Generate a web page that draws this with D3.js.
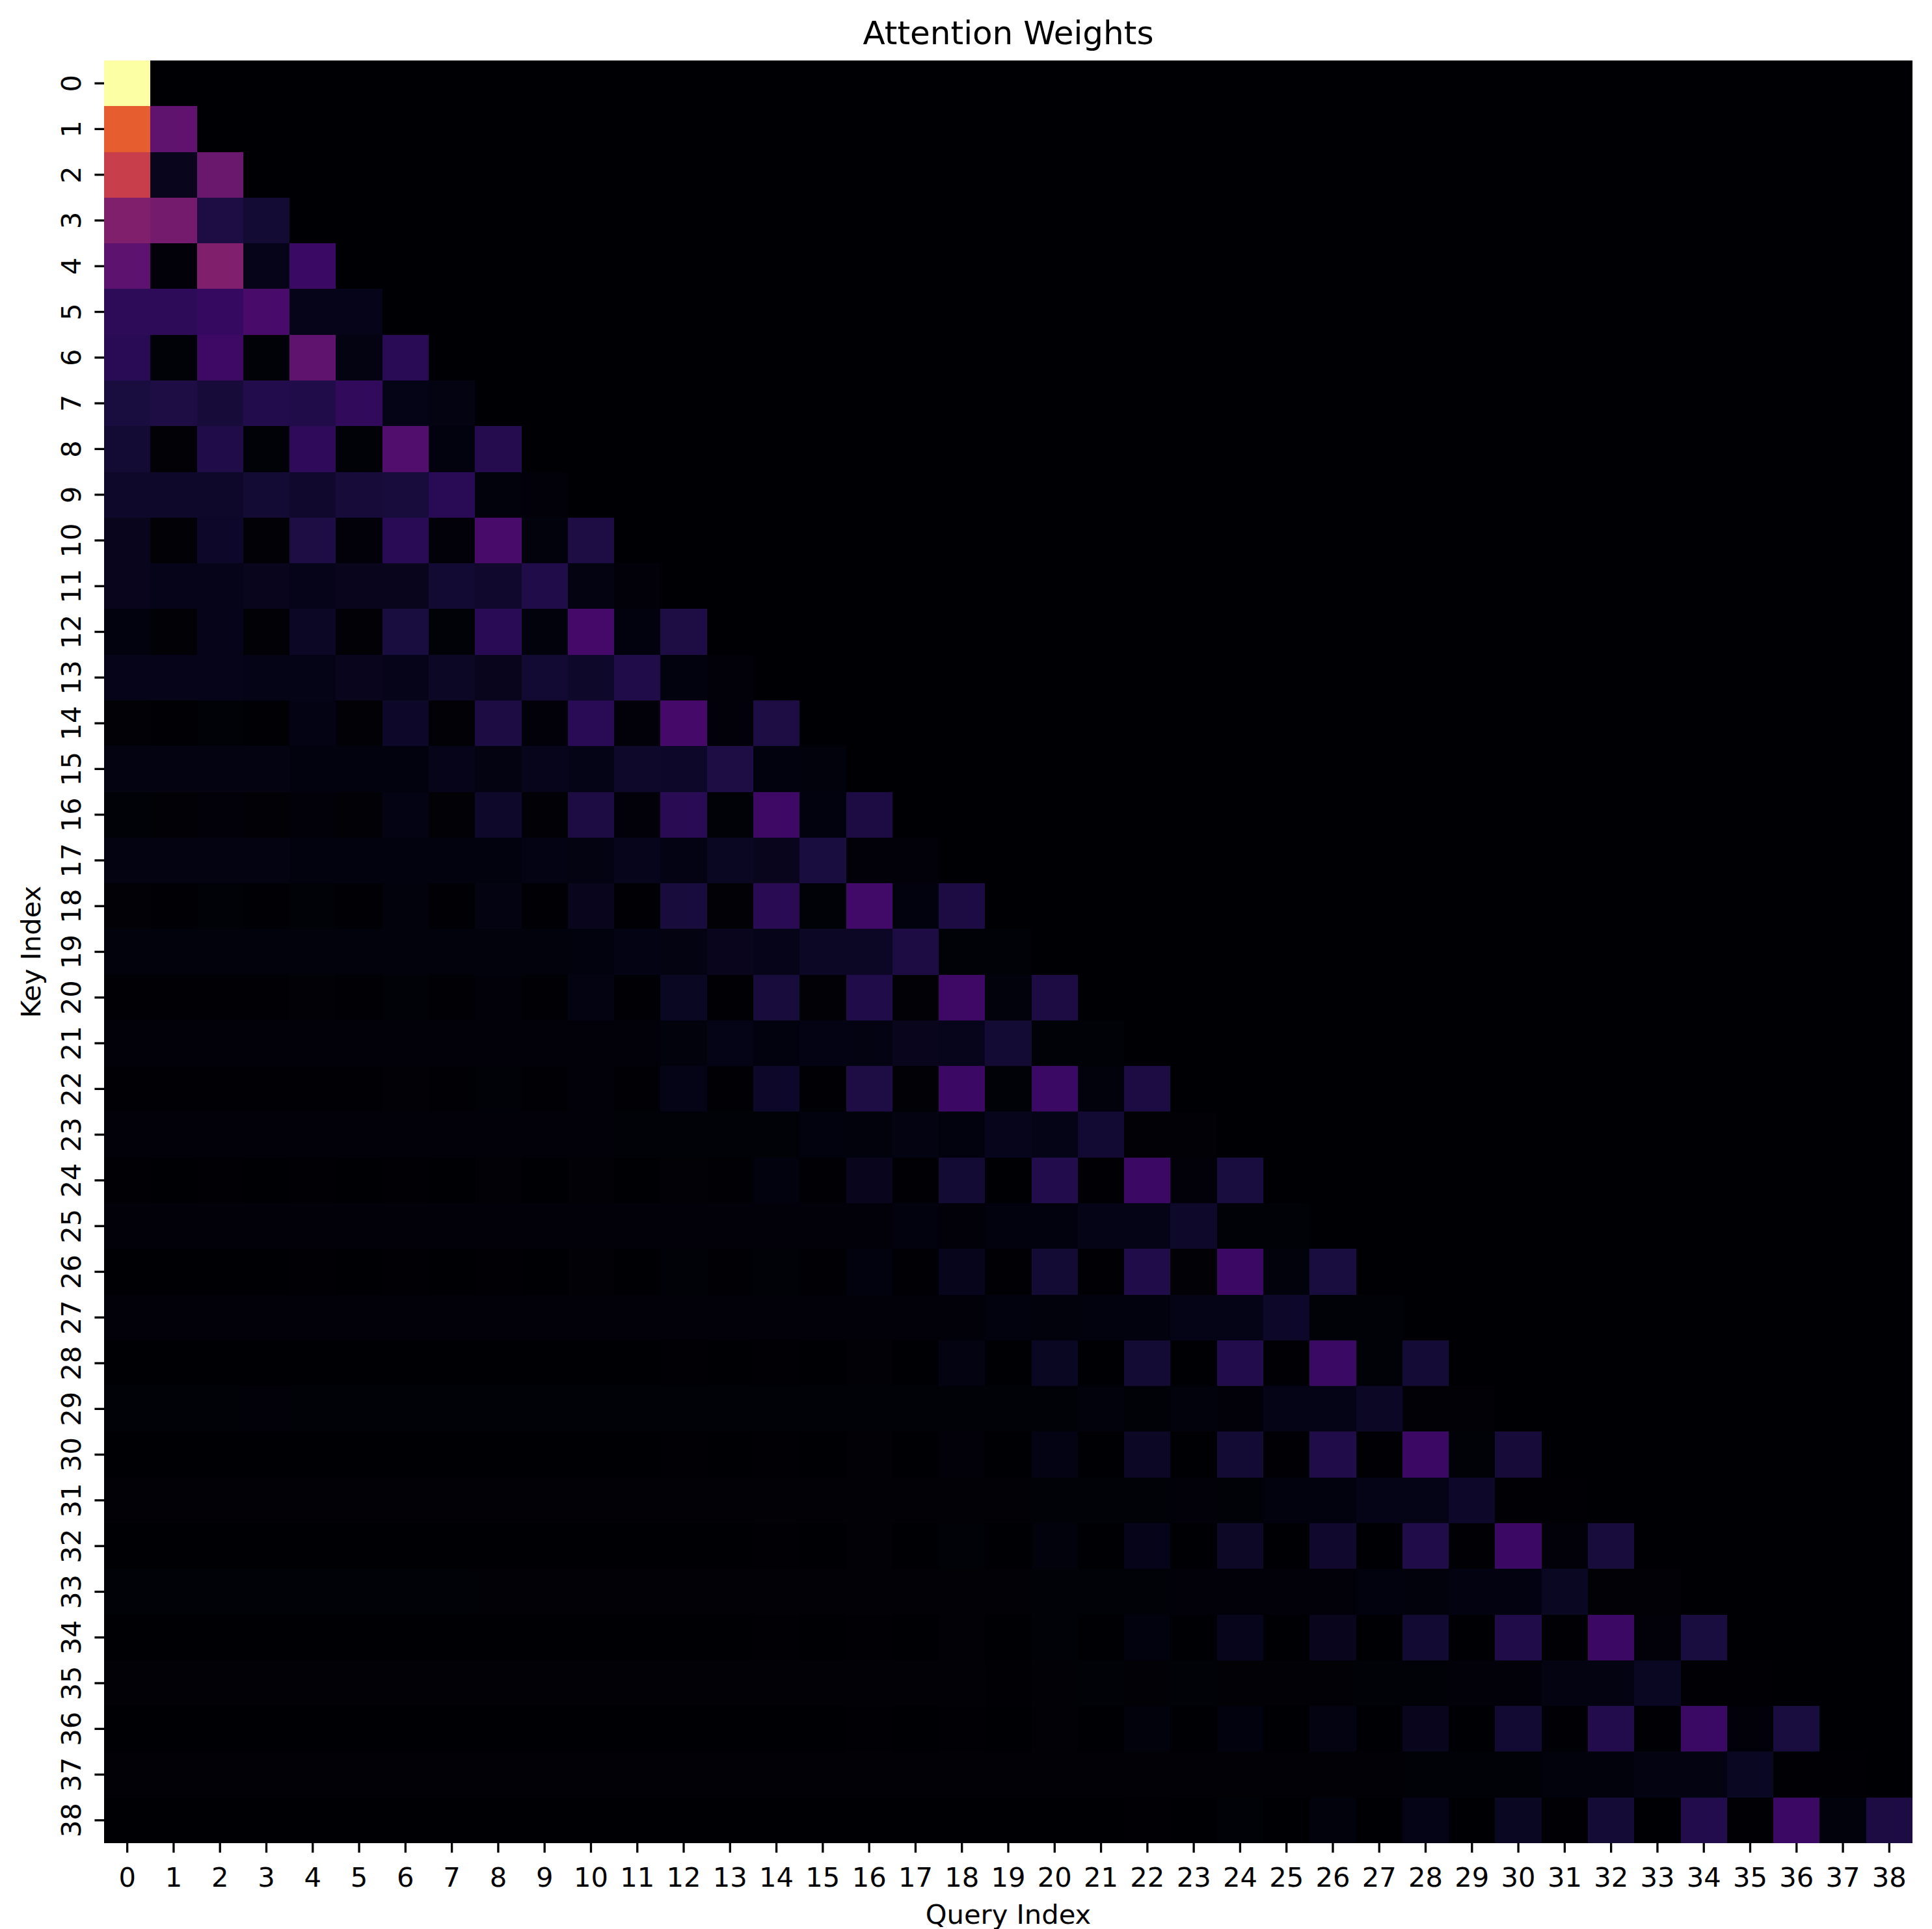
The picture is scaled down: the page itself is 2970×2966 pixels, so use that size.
<!DOCTYPE html>
<html>
<head>
<meta charset="utf-8">
<title>Attention Weights</title>
<script src="https://cdn.jsdelivr.net/npm/d3@7"></script>
<style>
  html, body { margin: 0; background: #fff; }
  text { font-family: "DejaVu Sans", sans-serif; fill: #000; }
</style>
</head>
<body>
<div id="chart"></div>
<script>
var queryLabels = d3.range(39).map(String);
var keyLabels = d3.range(39).map(String);

// one row per key, columns past the end are zero
var weights = [
  [110],
  [70, 30],
  [59, 6, 33],
  [39, 36, 13, 10],
  [29, 2, 39, 5, 20],
  [17, 17, 19, 24, 5, 5],
  [16, 1.5, 21, 1.5, 30, 3.5, 16],
  [12, 13, 11, 14.5, 14, 18, 4.5, 3.5],
  [10, 1, 14, 1.5, 17.5, 1.5, 26, 3, 15],
  [8.5, 8.5, 8.5, 10, 9, 11, 11.5, 16, 2.5, 2],
  [6, 1, 8, 1, 13, 2, 16, 2, 24, 2.5, 13],
  [6, 5, 5, 6, 5, 6, 6, 9.5, 9, 14, 3.5, 2],
  [3, 1, 5, 1, 7, 1, 12, 1.5, 16, 2.5, 23, 3, 13],
  [5, 5, 5, 4.5, 4.5, 6, 5, 7, 6, 9.5, 8.5, 14, 3, 2],
  [1.2, 0.5, 1.5, 0.5, 4, 1, 8, 1, 12.5, 2, 16, 2, 23, 2, 13],
  [3.5, 3.5, 3.5, 3.5, 3, 3, 3, 5, 3.5, 5.5, 4.5, 8.5, 8, 13, 3, 2.5],
  [1.5, 1, 2, 1, 2, 1, 4, 1, 8.5, 1, 12.5, 2, 15.5, 1.5, 21, 3, 12.5],
  [3.5, 3.5, 3.5, 3.5, 3, 3, 3, 3, 3, 4, 3.5, 5.5, 4, 6.5, 6, 12, 2, 2],
  [1, 0.5, 1.5, 0.5, 1.5, 0.5, 2.5, 0.5, 3.5, 0.7, 6, 0.7, 11.5, 1, 15.5, 1.5, 22, 3, 12.5],
  [2.5, 2.5, 2.5, 2.5, 2.5, 2.5, 2.5, 2.5, 2.5, 2.5, 3, 4, 3.5, 6, 5, 7, 7, 12.5, 1.5, 1.5],
  [0.7, 0.5, 0.8, 0.5, 1, 0.5, 1.5, 0.5, 2, 0.5, 3.5, 0.6, 6.5, 0.5, 11.5, 1, 14, 1, 21, 2.5, 12.5],
  [2, 2, 2, 2, 2, 2, 2, 2, 2, 2, 2, 2, 2.5, 4.5, 3, 4, 3.5, 6, 5.5, 10, 1.5, 1.5],
  [0.5, 0.5, 0.5, 0.5, 0.7, 0.5, 1, 0.5, 1.5, 0.5, 2, 0.5, 4.5, 0.5, 8, 0.7, 13, 1, 20.5, 1.5, 20, 2.5, 12.5],
  [1.8, 1.8, 1.8, 1.8, 1.8, 1.8, 1.8, 1.8, 1.8, 1.8, 1.8, 1.5, 1.5, 1.5, 1.5, 3, 2.5, 3.5, 3, 5.5, 4.5, 9.5, 1, 1],
  [0.5, 0.4, 0.5, 0.4, 0.7, 0.4, 0.8, 0.4, 1, 0.4, 1.2, 0.4, 1, 0.5, 3, 0.5, 6, 0.5, 10, 0.3, 14.5, 0.5, 20.5, 2, 12],
  [1.8, 1.8, 1.8, 1.8, 1.8, 1.8, 1.8, 1.8, 1.8, 1.8, 1.8, 1.8, 2, 2, 2, 2, 2, 3, 2, 3, 3, 4.5, 4.5, 8.5, 1.5, 1.5],
  [0.4, 0.3, 0.4, 0.3, 0.5, 0.3, 0.6, 0.3, 0.8, 0.3, 1, 0.3, 1.5, 0.5, 1.5, 0.5, 3, 0.5, 5.5, 0.5, 10, 0.5, 14, 1, 20.5, 2.5, 12],
  [2, 2, 2, 2, 2, 2, 2, 2, 2, 2, 2, 2, 2, 2, 2, 2, 2, 2, 2, 3, 2.5, 3, 3, 4.5, 4.5, 8, 1.5, 1.5],
  [0.3, 0.3, 0.3, 0.3, 0.3, 0.3, 0.4, 0.3, 0.4, 0.3, 0.4, 0.3, 0.6, 0.3, 0.6, 0.3, 1.2, 0.3, 3.5, 0.3, 6.5, 0.3, 10, 0.4, 14.5, 0.5, 20, 1.5, 10.5],
  [1.5, 1.5, 1.5, 2, 1.5, 1.5, 1.5, 1.5, 1.5, 1.5, 1.5, 1.5, 1.5, 1.5, 1.5, 1.5, 1.5, 1.5, 1.5, 1.5, 1.5, 2.5, 1.5, 2.5, 2, 4.5, 4.5, 7, 1, 1],
  [0.2, 0.2, 0.2, 0.2, 0.2, 0.2, 0.3, 0.2, 0.3, 0.2, 0.3, 0.2, 0.5, 0.3, 0.8, 0.3, 1, 0.3, 2, 0.3, 4, 0.3, 7, 0.4, 10, 0.5, 14, 0.5, 20.5, 1.5, 11],
  [1.2, 1.2, 1.2, 1.2, 1.2, 1.2, 1.2, 1.2, 1.2, 1.2, 1.2, 1.2, 1.2, 1.2, 1.2, 1.2, 1.2, 1.2, 1.2, 1.2, 1.3, 1.3, 1.5, 2, 1.7, 3, 3, 4.5, 4.5, 8, 0.8, 0.8],
  [0.3, 0.3, 0.3, 0.3, 0.3, 0.3, 0.3, 0.3, 0.3, 0.3, 0.3, 0.3, 0.4, 0.3, 0.6, 0.3, 1, 0.3, 1.5, 0.3, 2.5, 0.3, 5, 0.3, 7.5, 0.3, 9, 0.2, 13.5, 0.5, 20.5, 2, 11.5],
  [1.5, 1.5, 1.5, 1.5, 1.5, 1.5, 1.5, 1.5, 1.2, 1.2, 1.2, 1.2, 1.2, 1.2, 1.2, 1.2, 1.2, 1.2, 1.2, 1.2, 1.3, 1.7, 1.5, 2, 1.8, 1.8, 2, 2.8, 2.3, 3.2, 3.2, 6.5, 1, 1],
  [0.2, 0.2, 0.2, 0.2, 0.2, 0.2, 0.2, 0.2, 0.2, 0.2, 0.2, 0.2, 0.3, 0.2, 0.5, 0.2, 0.7, 0.2, 1, 0.2, 1.5, 0.2, 3, 0.3, 5.5, 0.3, 6, 0.2, 9.5, 0.3, 14, 0.8, 20.5, 2, 12],
  [1.2, 1.2, 1, 1, 1, 1, 1, 1, 1, 1, 1, 1, 1, 1, 1, 1, 1, 1, 1, 0.8, 1, 1.3, 1, 1.3, 1, 1.2, 1.2, 1.6, 1.4, 2, 1.8, 3.5, 3.5, 6.5, 0.8, 0.8],
  [0.2, 0.2, 0.2, 0.2, 0.2, 0.2, 0.2, 0.2, 0.2, 0.2, 0.2, 0.2, 0.2, 0.2, 0.3, 0.2, 0.7, 0.2, 0.7, 0.2, 1, 0.2, 2.5, 0.3, 2.8, 0.3, 3.5, 0.2, 6, 0.2, 9.5, 0.5, 14.5, 0.7, 20, 2, 12],
  [1.2, 1.2, 1, 1, 1, 1, 1, 1, 1, 1, 1, 1, 1, 1, 1, 1, 1, 1, 1, 1, 1, 1.2, 1, 1.2, 1, 1, 1.1, 1.1, 1.3, 1.5, 1.4, 2.2, 2.2, 3.5, 3.8, 6.5, 0.7, 0.7],
  [0.2, 0.2, 0.2, 0.2, 0.2, 0.2, 0.2, 0.2, 0.2, 0.2, 0.2, 0.2, 0.2, 0.2, 0.2, 0.2, 0.2, 0.2, 0.2, 0.2, 0.3, 0.2, 0.5, 0.2, 1.5, 0.2, 2.5, 0.2, 4.5, 0.2, 6.5, 0.5, 10.5, 0.3, 14.5, 0.7, 20.5, 2.5, 12.5]
];

var width = 2970, height = 2966;
var margin = { top: 93, right: 30, bottom: 132, left: 160 };
var fontTick = 41.67, fontTitle = 50;

var svg = d3.select('#chart').append('svg')
    .attr('width', width)
    .attr('height', height)
    .style('display', 'block');

var x = d3.scaleBand().domain(queryLabels).range([margin.left, width - margin.right]);
var y = d3.scaleBand().domain(keyLabels).range([margin.top, height - margin.bottom]);
var color = d3.scaleSequential(d3.interpolateInferno)
    .domain([0, d3.max(weights, function(r) { return d3.max(r); })]);

// flatten into cells, padding the upper triangle with zeros
var cells = [];
keyLabels.forEach(function(key, i) {
  queryLabels.forEach(function(query, j) {
    cells.push({ key: key, query: query, value: j < weights[i].length ? weights[i][j] : 0 });
  });
});

svg.append('g').selectAll('rect')
    .data(cells)
  .enter().append('rect')
    .attr('x', function(d) { return x(d.query); })
    .attr('y', function(d) { return y(d.key); })
    .attr('width', x.bandwidth())
    .attr('height', y.bandwidth())
    .attr('fill', function(d) { return color(d.value); })
    .attr('shape-rendering', 'crispEdges');

var xAxis = svg.append('g')
    .attr('transform', 'translate(0,' + (height - margin.bottom) + ')')
    .call(d3.axisBottom(x).tickSize(14.6).tickPadding(14.6));

var yAxis = svg.append('g')
    .attr('transform', 'translate(' + margin.left + ',0)')
    .call(d3.axisLeft(y).tickSize(14.6).tickPadding(14.6));

[xAxis, yAxis].forEach(function(axis) {
  axis.select('.domain').remove();
  axis.selectAll('line').attr('stroke', '#000').attr('stroke-width', 3.33);
  axis.selectAll('text').style('font-family', '"DejaVu Sans", sans-serif').style('font-size', fontTick + 'px');
});

xAxis.selectAll('text').attr('dy', null).attr('y', 67);

// y labels are turned sideways
yAxis.selectAll('text')
    .attr('x', null)
    .attr('dy', null)
    .attr('text-anchor', 'middle')
    .attr('transform', 'translate(-36,0) rotate(-90)');

svg.append('text')
    .attr('x', (margin.left + width - margin.right) / 2)
    .attr('y', 68)
    .attr('text-anchor', 'middle')
    .style('font-size', fontTitle + 'px')
    .text('Attention Weights');

svg.append('text')
    .attr('x', (margin.left + width - margin.right) / 2)
    .attr('y', 2958)
    .attr('text-anchor', 'middle')
    .style('font-size', fontTick + 'px')
    .text('Query Index');

svg.append('text')
    .attr('transform', 'translate(62,' + (margin.top + height - margin.bottom) / 2 + ') rotate(-90)')
    .attr('text-anchor', 'middle')
    .style('font-size', fontTick + 'px')
    .text('Key Index');
</script>
</body>
</html>
